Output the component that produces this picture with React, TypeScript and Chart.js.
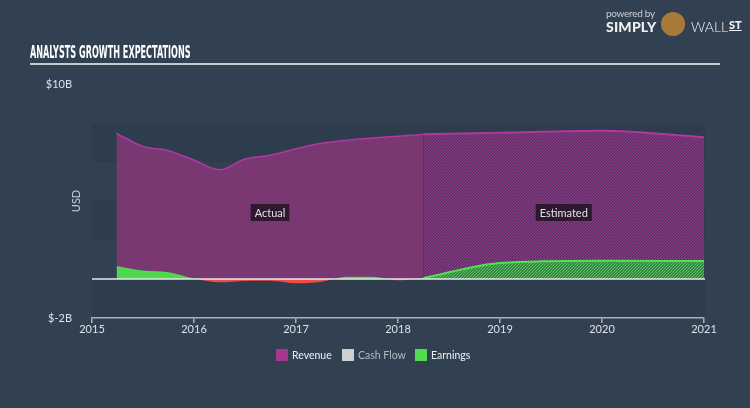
import React, { useEffect, useRef } from 'react';
import { Chart, registerables } from 'chart.js';

Chart.register(...registerables);

// ---- data (values in billions USD, x in decimal years) ----
const actualX = [2015.24, 2015.5, 2015.75, 2016.0, 2016.25, 2016.5, 2016.75, 2017.0, 2017.25, 2017.5, 2017.75, 2018.0, 2018.25];
const revenueActual = [7.47, 6.8, 6.58, 6.1, 5.6, 6.15, 6.35, 6.68, 6.96, 7.12, 7.23, 7.32, 7.42];
const earningsActual = [0.67, 0.43, 0.35, 0.03, -0.17, -0.1, -0.09, -0.22, -0.14, 0.12, 0.12, -0.07, 0.05];

const estimateX = [2018.25, 2019.0, 2020.0, 2021.0];
const revenueEstimate = [7.42, 7.5, 7.6, 7.27];
const earningsEstimate = [0.05, 0.82, 0.94, 0.92];

const cashFlow: number[] = [];

const xTickLabels = ['2015', '2016', '2017', '2018', '2019', '2020', '2021'];
const yTickValues = [-2, 10];
const yTickLabels = ['$-2B', '$10B'];
const bandRanges = [[6, 8], [2, 4], [-2, 0]];

const legendNames = ['Revenue', 'Cash Flow', 'Earnings'];
const legendColors = ['#a8378f', '#cfcfcf', '#4fdc4f'];

const BG = '#324152';

function pts(xs: number[], ys: number[]) {
  return xs.map((x, i) => ({ x, y: ys[i] }));
}

function hatch(bg: string, fg: string, size: number) {
  const c = document.createElement('canvas');
  c.width = size;
  c.height = size;
  const g = c.getContext('2d')!;
  g.fillStyle = bg;
  g.fillRect(0, 0, size, size);
  g.strokeStyle = fg;
  g.lineWidth = 1.2;
  g.beginPath();
  g.moveTo(0, size);
  g.lineTo(size, 0);
  g.moveTo(-1, 1);
  g.lineTo(1, -1);
  g.moveTo(size - 1, size + 1);
  g.lineTo(size + 1, size - 1);
  g.stroke();
  return g.createPattern(c, 'repeat')!;
}

export default function App() {
  const ref = useRef<HTMLCanvasElement>(null);

  useEffect(() => {
    const canvas = ref.current!;
    Chart.defaults.font.family = 'Lato, "Open Sans", sans-serif';
    const purpleHatch = hatch('#472f58', '#9a3b8e', 3);
    const greenHatch = hatch('#2f6048', '#55cf55', 3);

    const decor = {
      id: 'decor',
      beforeDraw(chart: any) {
        const { ctx, chartArea, scales } = chart;
        const y = scales.y;
        ctx.save();
        ctx.fillStyle = 'rgba(20,30,40,0.12)';
        for (const [a, b] of bandRanges) {
          const top = y.getPixelForValue(b);
          const bot = y.getPixelForValue(a);
          ctx.fillRect(chartArea.left, top, chartArea.right - chartArea.left + 1, bot - top);
        }
        // USD axis title
        ctx.translate(76, (chartArea.top + chartArea.bottom) / 2);
        ctx.rotate(-Math.PI / 2);
        ctx.fillStyle = '#c9ced4';
        ctx.font = '11px Lato, sans-serif';
        ctx.textAlign = 'center';
        ctx.textBaseline = 'middle';
        ctx.fillText('USD', 0, 0);
        ctx.restore();
      },
      afterDatasetsDraw(chart: any) {
        const { ctx, chartArea, scales } = chart;
        const x = scales.x;
        const y = scales.y;
        ctx.save();
        const zy = y.getPixelForValue(0);
        ctx.strokeStyle = '#e6e8ea';
        ctx.lineWidth = 1.5;
        ctx.beginPath();
        ctx.moveTo(chartArea.left, zy);
        ctx.lineTo(chartArea.right + 1, zy);
        ctx.stroke();

        const labels = [
          { t: 'Actual', cx: (actualX[0] + actualX[actualX.length - 1]) / 2 },
          { t: 'Estimated', cx: (estimateX[0] + estimateX[estimateX.length - 1]) / 2 },
        ];
        ctx.font = '11px Lato, sans-serif';
        ctx.textAlign = 'center';
        ctx.textBaseline = 'middle';
        const py = y.getPixelForValue(3.41);
        for (const l of labels) {
          const px = x.getPixelForValue(l.cx);
          const w = ctx.measureText(l.t).width + 8;
          ctx.fillStyle = 'rgba(35,20,38,0.88)';
          ctx.fillRect(px - w / 2, py - 8.5, w, 17);
          ctx.fillStyle = '#e4e0e6';
          ctx.fillText(l.t, px, py + 0.5);
        }
        ctx.restore();
      },
    };

    const chart = new Chart(canvas, {
      type: 'line',
      data: {
        datasets: [
          {
            label: 'Earnings',
            data: pts(actualX, earningsActual),
            borderWidth: 0,
            borderColor: 'rgba(0,0,0,0)',
            fill: { target: 'origin', above: '#4fd84f', below: '#ef4b47' },
            cubicInterpolationMode: 'monotone',
            pointRadius: 0,
            order: 0,
          },
          {
            label: 'Earnings estimate',
            data: pts(estimateX, earningsEstimate),
            borderWidth: 2,
            borderColor: '#4fe34f',
            backgroundColor: greenHatch,
            fill: 'origin',
            cubicInterpolationMode: 'monotone',
            pointRadius: 0,
            order: 1,
          },
          {
            label: 'Cash Flow',
            data: cashFlow,
            borderColor: '#cfcfcf',
            backgroundColor: '#cfcfcf',
            pointRadius: 0,
            order: 2,
          },
          {
            label: 'Revenue',
            data: pts(actualX, revenueActual),
            borderWidth: 1.5,
            borderColor: '#b2379f',
            backgroundColor: '#7a3873',
            fill: 'origin',
            cubicInterpolationMode: 'monotone',
            pointRadius: 0,
            order: 3,
          },
          {
            label: 'Revenue estimate',
            data: pts(estimateX, revenueEstimate),
            borderWidth: 2,
            borderColor: '#b2379f',
            backgroundColor: purpleHatch,
            fill: 'origin',
            cubicInterpolationMode: 'monotone',
            pointRadius: 0,
            order: 4,
          },
        ],
      },
      options: {
        animation: false,
        responsive: false,
        maintainAspectRatio: false,
        devicePixelRatio: 1,
        layout: { padding: { left: 0, right: 46, top: 84, bottom: 60 } },
        plugins: {
          legend: { display: false },
          tooltip: { enabled: false },
        },
        scales: {
          x: {
            type: 'linear',
            min: 2015,
            max: 2021,
            afterFit: (s: any) => {
              s.height = 30;
            },
            ticks: {
              stepSize: 1,
              autoSkip: false,
              maxRotation: 0,
              padding: 0,
              color: '#dde1e5',
              font: { size: 11 },
              callback: (v: any) => xTickLabels[Math.round(Number(v) - 2015)] ?? '',
            },
            grid: {
              drawOnChartArea: false,
              drawTicks: true,
              tickLength: 5,
              color: '#a9b1ba',
              lineWidth: 1.5,
            },
            border: { display: true, color: '#a9b1ba', width: 1.5 },
          },
          y: {
            type: 'linear',
            min: -2,
            max: 10,
            afterFit: (s: any) => {
              s.width = 92;
            },
            ticks: {
              stepSize: 2,
              autoSkip: false,
              padding: 12,
              color: '#dde1e5',
              font: { size: 11 },
              callback: (v: any) => {
                const i = yTickValues.indexOf(Number(v));
                return i >= 0 ? yTickLabels[i] : '';
              },
            },
            grid: { display: false },
            border: { display: false },
          },
        },
      },
      plugins: [decor],
    } as any);

    return () => chart.destroy();
  }, []);

  return (
    <div
      style={{
        position: 'absolute',
        left: 0,
        top: 0,
        width: 750,
        height: 408,
        background: BG,
        overflow: 'hidden',
        fontFamily: 'Lato, sans-serif',
      }}
    >
      <canvas ref={ref} width={750} height={408} style={{ position: 'absolute', left: 0, top: 0, width: 750, height: 408 }} />
      <div
        style={{
          position: 'absolute',
          left: 30,
          top: 43,
          fontFamily: '"Liberation Sans Narrow", "DejaVu Sans Condensed", sans-serif',
          fontWeight: 'bold',
          fontSize: 17,
          color: '#ffffff',
          transform: 'scaleX(0.53)',
          transformOrigin: 'left top',
          whiteSpace: 'nowrap',
          lineHeight: '18px',
        }}
      >
        ANALYSTS GROWTH EXPECTATIONS
      </div>
      <div style={{ position: 'absolute', left: 30, top: 63, width: 690, height: 2, background: '#c3c8ce' }} />
      <div style={{ position: 'absolute', left: 606, top: 7, fontSize: 10, color: '#c8ccd0', letterSpacing: -0.3 }}>powered by</div>
      <div style={{ position: 'absolute', left: 606, top: 18, fontSize: 14, fontWeight: 900, color: '#f2f2f2', letterSpacing: 0.2 }}>SIMPLY</div>
      <div style={{ position: 'absolute', left: 661, top: 12, width: 24, height: 24, borderRadius: 12, background: '#a87a3a' }} />
      <div style={{ position: 'absolute', left: 691, top: 18, fontSize: 14, fontWeight: 300, color: '#f2f2f2' }}>WALL</div>
      <div style={{ position: 'absolute', left: 729, top: 18, fontSize: 11, fontWeight: 900, color: '#f2f2f2', textDecoration: 'underline' }}>ST</div>
      {legendNames.map((n, i) => (
        <div
          key={n}
          style={{
            position: 'absolute',
            left: [276, 342, 415][i],
            top: 349,
            display: 'flex',
            alignItems: 'center',
            fontSize: 10.5,
            color: i === 1 ? '#b4bac1' : '#eef0f2',
            whiteSpace: 'nowrap',
          }}
        >
          <span style={{ display: 'inline-block', width: 12, height: 12, background: legendColors[i], marginRight: 4 }} />
          {n}
        </div>
      ))}
    </div>
  );
}
